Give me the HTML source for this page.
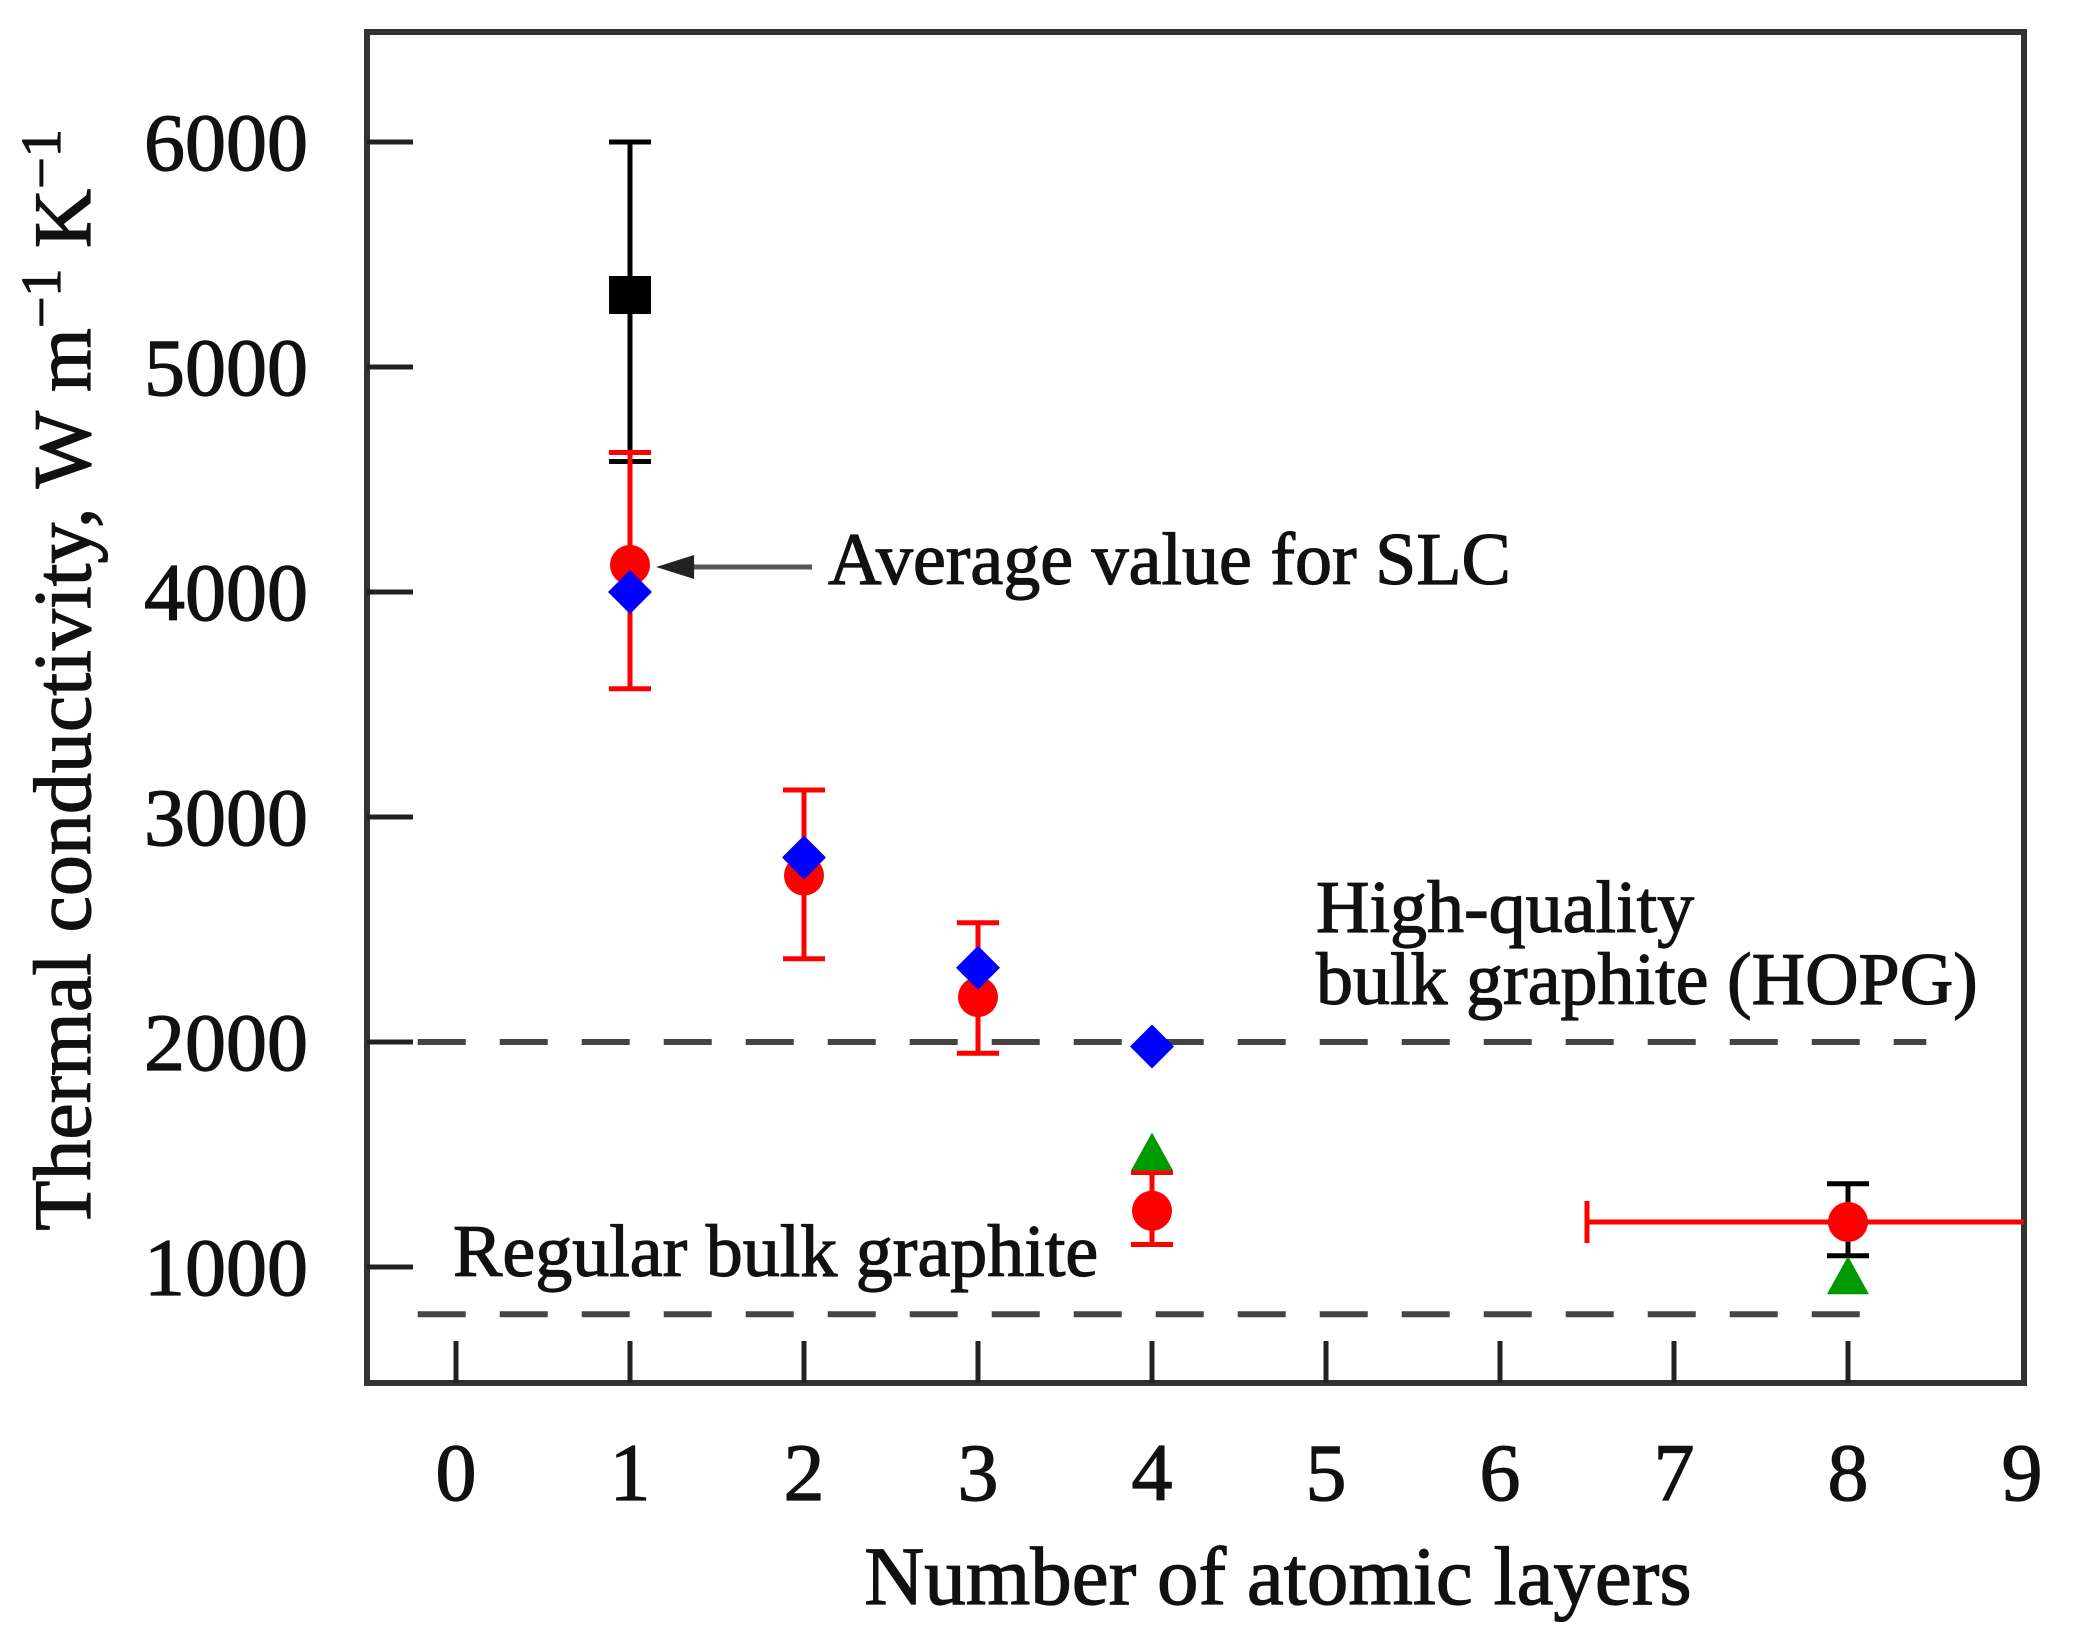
<!DOCTYPE html>
<html><head><meta charset="utf-8"><style>
html,body{margin:0;padding:0;background:#fff;}
svg{display:block;font-family:"Liberation Serif",serif;}
</style></head><body>
<svg id="chart" width="2078" height="1641" viewBox="0 0 2078 1641" xmlns="http://www.w3.org/2000/svg">
<g id="plot"></g>
</svg>
<script>
const xTicks=[0,1,2,3,4,5,6,7,8,9];
const yTicks=[1000,2000,3000,4000,5000,6000];
const blackX=[1];const blackY=[5320];const blackLo=[4580];const blackHi=[6000];
const redX=[1,2,3,4,8];const redY=[4120,2740,2200,1250,1200];
const redLo=[3570,2370,1950,1100,null];const redHi=[4620,3120,2530,1420,null];
const red8XLo=[6.5];const red8XHi=[9.3];const black8Lo=[1050];const black8Hi=[1370];
const blueX=[1,2,3,4];const blueY=[4000,2820,2330,1980];
const greenX=[4,8];const greenY=[1500,950];
const hopgY=2000, regY=790;

const L=367,R=2024,T=32,B=1383;
const sx=v=>456+v*174;
const sy=v=>142+(6000-v)*0.225;
const NS="http://www.w3.org/2000/svg";
const g=document.getElementById('plot');
function el(tag,attrs,name,parent){const e=document.createElementNS(NS,tag);for(const k in attrs)e.setAttribute(k,attrs[k]);


(parent||g).appendChild(e);return e;}
function txt(x,y,s,name,extra){const t=el('text',Object.assign({x:x,y:y,'font-size':74,fill:'#111',stroke:'#111','stroke-width':1.2},extra||{}),name);t.textContent=s;return t;}

// dashed reference lines
el('line',{x1:sx(-0.22),x2:sx(8.45),y1:sy(hopgY),y2:sy(hopgY),stroke:'#444','stroke-width':6,'stroke-dasharray':'48 34'},'hopg-line');
el('line',{x1:sx(-0.22),x2:sx(8.2),y1:sy(regY),y2:sy(regY),stroke:'#444','stroke-width':6,'stroke-dasharray':'48 34'},'regular-graphite-line');

// axes box
el('rect',{x:L,y:T,width:R-L,height:B-T,fill:'none',stroke:'#333','stroke-width':6},'axes-frame');
xTicks.forEach(v=>{ if(v<9) el('line',{x1:sx(v),x2:sx(v),y1:B,y2:B-42,stroke:'#222','stroke-width':5},'x-tick');
 txt(sx(v),1500,String(v),'x-tick-label',{'text-anchor':'middle','font-size':82});});
yTicks.forEach(v=>{el('line',{x1:L,x2:L+46,y1:sy(v),y2:sy(v),stroke:'#222','stroke-width':5},'y-tick');
 txt(308,sy(v)+28,String(v),'y-tick-label',{'text-anchor':'end','font-size':82});});

txt(1278,1604,'Number of atomic layers','x-axis-title',{'text-anchor':'middle','font-size':83});
const yt=txt(0,0,'','y-axis-title',{'text-anchor':'middle','font-size':82,transform:'translate(90,680) rotate(-90)'});
yt.innerHTML='Thermal conductivity, W m<tspan dy="-30" font-size="56">−1</tspan><tspan dy="30"> K</tspan><tspan dy="-30" font-size="56">−1</tspan>';

function vbar(x,lo,hi,color,name){el('line',{x1:sx(x),x2:sx(x),y1:sy(lo),y2:sy(hi),stroke:color,'stroke-width':5},name);
 [lo,hi].forEach(v=>el('line',{x1:sx(x)-21,x2:sx(x)+21,y1:sy(v),y2:sy(v),stroke:color,'stroke-width':5},name+'-cap'));}

blackX.forEach((x,i)=>{vbar(x,blackLo[i],blackHi[i],'#000','black-error-bar');
 el('rect',{x:sx(x)-21,y:sy(blackY[i])-19,width:42,height:38,fill:'#000'},'black-square');});
redX.forEach((x,i)=>{ if(redLo[i]!==null) vbar(x,redLo[i],redHi[i],'#f00','red-error-bar');});
vbar(8,black8Lo[0],black8Hi[0],'#000','black-error-bar-8');
el('line',{x1:sx(red8XLo[0]),x2:R,y1:sy(redY[4]),y2:sy(redY[4]),stroke:'#f00','stroke-width':5},'red-x-error-bar');
el('line',{x1:sx(red8XLo[0]),x2:sx(red8XLo[0]),y1:sy(redY[4])-21,y2:sy(redY[4])+21,stroke:'#f00','stroke-width':5},'red-x-error-cap');
greenX.forEach((x,i)=>{const cx=sx(x),cy=sy(greenY[i]);
 el('polygon',{points:`${cx},${cy-22} ${cx+21},${cy+16} ${cx-21},${cy+16}`,fill:'#009900'},'green-triangle');});
redX.forEach((x,i)=>el('circle',{cx:sx(x),cy:sy(redY[i]),r:20,fill:'#f00'},'red-circle'));
blueX.forEach((x,i)=>{const cx=sx(x),cy=sy(blueY[i]);
 el('polygon',{points:`${cx},${cy-22} ${cx+22},${cy} ${cx},${cy+22} ${cx-22},${cy}`,fill:'#0000ff'},'blue-diamond');});

el('line',{x1:812,x2:sx(1.25),y1:sy(4120)+2,y2:sy(4120)+2,stroke:'#555','stroke-width':5},'slc-arrow');
el('polygon',{points:`${sx(1.15)},${sy(4120)+2} ${sx(1.15)+38},${sy(4120)-10} ${sx(1.15)+38},${sy(4120)+14}`,fill:'#222'},'slc-arrow-head');
txt(828,584,'Average value for SLC','slc-annotation');
txt(1316,932,'High-quality','hopg-annotation-line1');
txt(1316,1004,'bulk graphite (HOPG)','hopg-annotation-line2');
txt(453,1276,'Regular bulk graphite','regular-graphite-annotation');
</script>
</body></html>
